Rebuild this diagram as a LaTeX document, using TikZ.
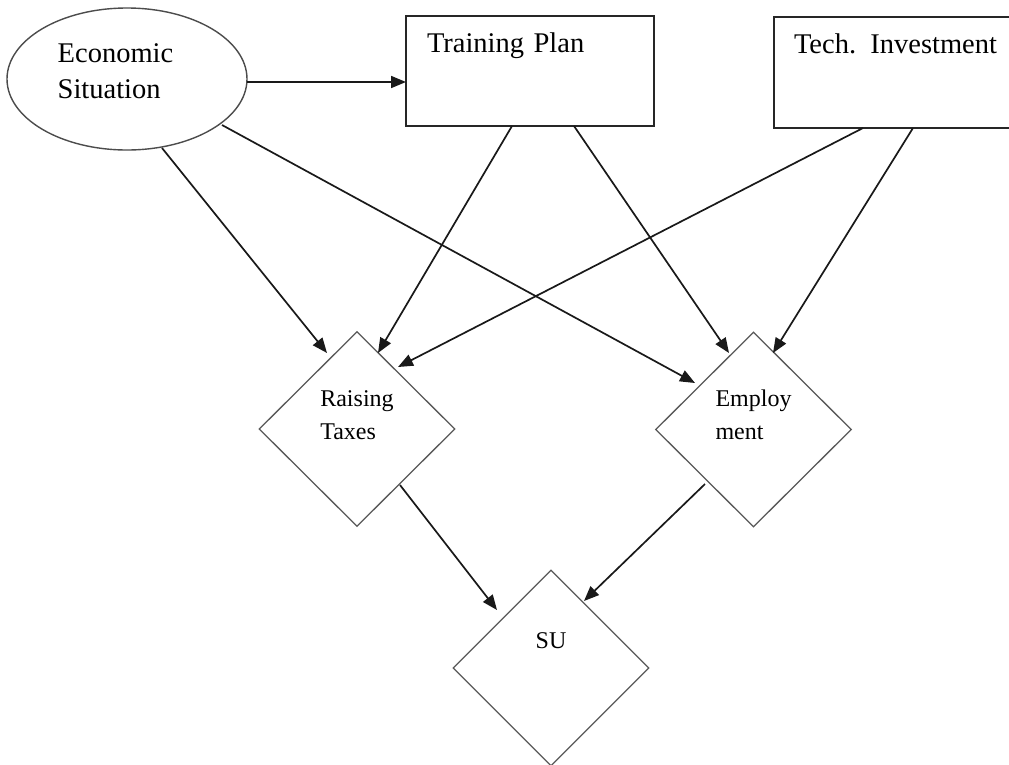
\documentclass[tikz,border=0pt]{standalone}
\usepackage{fontspec}
\setmainfont{Liberation Serif}
\usetikzlibrary{shapes.geometric,arrows.meta}
\tikzset{
  big/.style={font=\fontsize{28.5}{36}\selectfont},
  small/.style={font=\fontsize{24}{33}\selectfont},
  ell/.style={ellipse,draw=black!70,line width=1.4pt,inner sep=0pt,
    minimum width=240pt,minimum height=142pt,big},
  tbox/.style={rectangle,draw=black!85,line width=2pt,align=left,
    inner xsep=21pt,inner ysep=16pt,text height=20pt,big},
  dia/.style={diamond,draw=black!65,line width=1.3pt,inner sep=0pt,
    minimum width=196pt,minimum height=195pt,small},
  arr/.style={draw=black!90,line width=1.7pt,-{Triangle[length=15pt,width=12pt]}}
}
\begin{document}
\begin{tikzpicture}[x=1pt,y=-1pt]
\useasboundingbox (0,0) rectangle (1009,764);
\clip (0,0) rectangle (1009,764);
\fill[white] (0,0) rectangle (1009,764);

% top row
\node[ell,text height=20pt,text depth=54pt] (ES) at (127,79)
  {\begin{tabular}[t]{@{}l@{\hspace{23pt}}}Economic\\Situation\end{tabular}};
\node[tbox,text width=206pt,text depth=58pt] (TP) at (530,71) {Training Plan};
\node[tbox,text width=218pt,inner xsep=20pt,text depth=59pt] (TI) at (903,72.5) {Tech. Investment};

% diamonds
\node[dia,text height=17pt,text depth=63pt] (RT) at (357,429)
  {\begin{tabular}[t]{@{}l@{}}Raising\\Taxes\end{tabular}};
\node[dia,text height=17pt,text depth=63pt] (EM) at (753.5,429.5)
  {\begin{tabular}[t]{@{}l@{}}Employ\\ment\end{tabular}};
\node[dia,minimum height=196pt,text height=17pt,text depth=57pt] (SU) at (551,668) {SU};

% connectors
\draw[arr] ([shift={(120,3)}]ES.center) -- ([shift={(-124,11)}]TP.center);
\draw[arr] ([shift={(35,69)}]ES.center) -- ([shift={(-30,-76)}]RT.center);
\draw[arr] ([shift={(95,46)}]ES.center) -- ([shift={(-58.5,-46.5)}]EM.center);
\draw[arr] ([shift={(-18,55)}]TP.center) -- ([shift={(21,-76)}]RT.center);
\draw[arr] ([shift={(44,55)}]TP.center) -- ([shift={(-24.5,-76.5)}]EM.center);
\draw[arr] ([shift={(-40,55.5)}]TI.center) -- ([shift={(41,-62)}]RT.center);
\draw[arr] ([shift={(10,55.5)}]TI.center) -- ([shift={(19.5,-76.5)}]EM.center);
\draw[arr] ([shift={(43,56)}]RT.center) -- ([shift={(-54,-58)}]SU.center);
\draw[arr] ([shift={(-48.5,54.5)}]EM.center) -- ([shift={(33,-67)}]SU.center);
\end{tikzpicture}
\end{document}
